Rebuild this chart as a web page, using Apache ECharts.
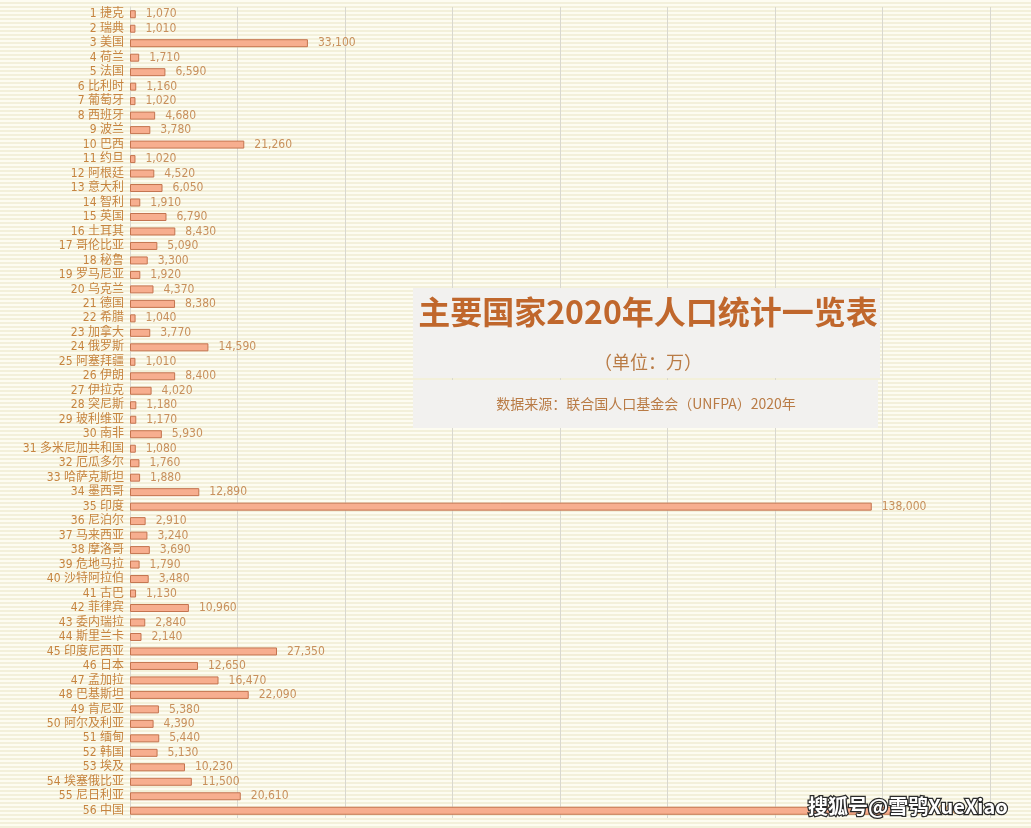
<!DOCTYPE html>
<html>
<head>
<meta charset="utf-8">
<script src="https://cdn.jsdelivr.net/npm/echarts@6/dist/echarts.min.js"></script>
<style>
html,body{margin:0;padding:0;}
#chart{width:1031px;height:828px;background:repeating-linear-gradient(to bottom,#fdfcf1 0px,#fdfcf1 2px,#f3f0da 2px,#f3f0da 4px);}
</style>
</head>
<body>
<div id="chart"></div>
<script>
const countries = ["捷克","瑞典","美国","荷兰","法国","比利时","葡萄牙","西班牙","波兰","巴西","约旦","阿根廷","意大利","智利","英国","土耳其","哥伦比亚","秘鲁","罗马尼亚","乌克兰","德国","希腊","加拿大","俄罗斯","阿塞拜疆","伊朗","伊拉克","突尼斯","玻利维亚","南非","多米尼加共和国","厄瓜多尔","哈萨克斯坦","墨西哥","印度","尼泊尔","马来西亚","摩洛哥","危地马拉","沙特阿拉伯","古巴","菲律宾","委内瑞拉","斯里兰卡","印度尼西亚","日本","孟加拉","巴基斯坦","肯尼亚","阿尔及利亚","缅甸","韩国","埃及","埃塞俄比亚","尼日利亚","中国"];
const population = [1070,1010,33100,1710,6590,1160,1020,4680,3780,21260,1020,4520,6050,1910,6790,8430,5090,3300,1920,4370,8380,1040,3770,14590,1010,8400,4020,1180,1170,5930,1080,1760,1880,12890,138000,2910,3240,3690,1790,3480,1130,10960,2840,2140,27350,12650,16470,22090,5380,4390,5440,5130,10230,11500,20610,144000];
const titleText = "主要国家2020年人口统计一览表";
const unitText = "（单位：万）";
const sourceText = "数据来源：联合国人口基金会（UNFPA）2020年";
const watermarkText = "搜狐号@雪鸮XueXiao";

const categories = countries.map((c,i)=> (i+1) + " " + c);
const narrow = "'Liberation Sans Narrow','DejaVu Sans Condensed','Liberation Sans','Noto Sans CJK SC',sans-serif";

const chart = echarts.init(document.getElementById('chart'));
chart.setOption({
  backgroundColor: 'transparent',
  animation: false,
  grid: {left: 130, right: 41, top: 7, bottom: 10, containLabel: false},
  xAxis: {
    type: 'value', min: 0, max: 160000, interval: 20000,
    axisLabel: {show: false}, axisTick: {show: false}, axisLine: {show: false},
    splitLine: {show: true, lineStyle: {color: '#d9d8cf', width: 1}}
  },
  yAxis: {
    type: 'category', data: categories, inverse: true,
    axisLine: {show: true, lineStyle: {color: '#d9d8cf'}},
    axisTick: {show: false},
    axisLabel: {color: '#c6843f', fontSize: 12, fontFamily: narrow, margin: 6, interval: 0}
  },
  series: [{
    type: 'bar', data: population, barWidth: 8,
    itemStyle: {color: '#f7ae8f', borderColor: '#c4744f', borderWidth: 1},
    label: {
      show: true, position: 'right', distance: 10,
      color: '#c8905c', fontSize: 12, fontFamily: narrow,
      formatter: p => p.value.toLocaleString('en-US')
    }
  }],
  graphic: [
    {type: 'rect', left: 413, top: 288, shape: {width: 467, height: 90}, style: {fill: '#f2f1ef'}, z: 10},
    {type: 'rect', left: 413, top: 380, shape: {width: 465, height: 48}, style: {fill: '#f2f1ef'}, z: 10},
    {type: 'text', x: 648, y: 312, z: 11, style: {text: titleText, fill: '#c0672c', font: "bold 32px 'Noto Sans CJK SC', sans-serif", align: 'center', verticalAlign: 'middle'}},
    {type: 'text', x: 648, y: 362, z: 11, style: {text: unitText, fill: '#b97b45', font: "18px 'Noto Sans CJK SC', sans-serif", align: 'center', verticalAlign: 'middle'}},
    {type: 'text', x: 646, y: 404, z: 11, style: {text: sourceText, fill: '#b97b45', font: "14px 'Noto Sans CJK SC', sans-serif", align: 'center', verticalAlign: 'middle'}},
    {type: 'text', x: 808, y: 806, z: 20, style: {text: watermarkText, fill: '#ffffff', stroke: '#2a2a2a', lineWidth: 2.5, font: "bold 20px 'Noto Sans CJK SC', sans-serif", align: 'left', verticalAlign: 'middle'}}
  ]
});
</script>
</body>
</html>
